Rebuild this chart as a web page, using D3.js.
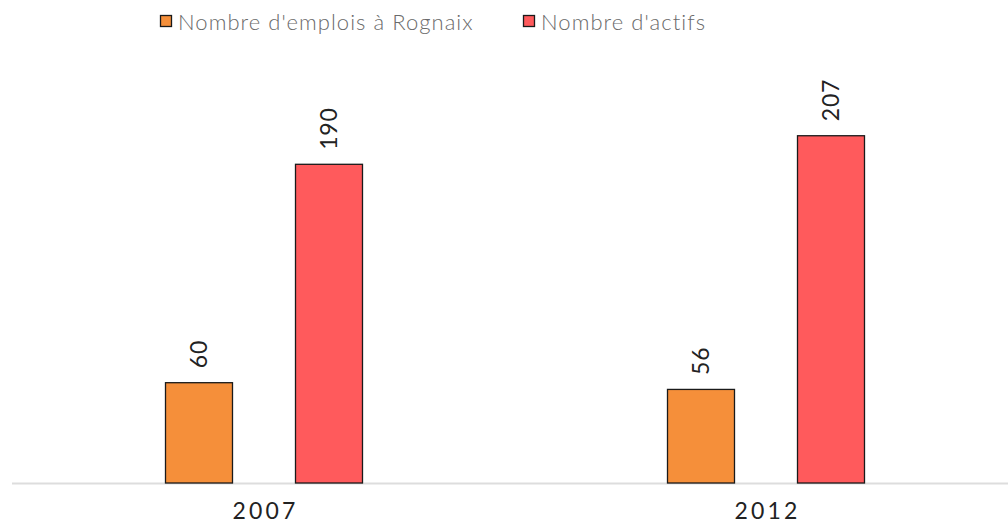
<!DOCTYPE html>
<html><head><meta charset="utf-8">
<script src="https://cdn.jsdelivr.net/npm/d3@7"></script>
<style>body{margin:0;background:#fff}svg{display:block}</style>
</head><body>
<svg id="c" width="1008" height="524"></svg>
<script>
const categories = ["2007", "2012"];
const seriesNames = ["Nombre d'emplois à Rognaix", "Nombre d'actifs"];
const emplois = [60, 56];
const actifs = [190, 207];
const colors = ["#f58f3a", "#ff5a5c"];

const svg = d3.select("#c");
const baseY = 483;
const x = d3.scaleBand().domain(categories).range([13, 1017]).padding(0);
const xi = d3.scaleBand().domain([0, 1]).range([121, 381]).paddingInner(0.477).paddingOuter(0.2385);
const y = d3.scaleLinear().domain([0, 250]).range([baseY, baseY - 420]);

const data = categories.map((c, i) => ({ cat: c, vals: [emplois[i], actifs[i]] }));

// axis line
svg.append("line").attr("x1", 12).attr("x2", 1008).attr("y1", baseY + 0.5).attr("y2", baseY + 0.5)
  .attr("stroke", "#dddddd").attr("stroke-width", 2);

const g = svg.selectAll("g.grp").data(data).enter().append("g").attr("class", "grp")
  .attr("transform", d => `translate(${x(d.cat)},0)`);

g.selectAll("rect").data(d => d.vals).enter().append("rect")
  .attr("x", (v, i) => xi(i) + 0.5)
  .attr("y", v => y(v) + 0.5)
  .attr("width", xi.bandwidth() - 1)
  .attr("height", v => baseY - y(v) - 0.5)
  .attr("fill", (v, i) => colors[i])
  .attr("stroke", "#1a1a1a").attr("stroke-width", 1.3);

g.selectAll("text.val").data(d => d.vals).enter().append("text").attr("class", "val")
  .attr("transform", (v, i) => `translate(${xi(i) + xi.bandwidth() / 2 + 8},${y(v) - 14}) rotate(-90)`)
  .attr("font-family", "Lato, sans-serif").attr("font-size", 23).attr("letter-spacing", 0.8)
  .attr("fill", "#222").text(v => v);

// x axis labels
svg.selectAll("text.cat").data(categories).enter().append("text").attr("class", "cat")
  .attr("x", d => x(d) + x.bandwidth() / 2 + 1.5).attr("y", 519)
  .attr("text-anchor", "middle").attr("font-family", "Lato, sans-serif").attr("font-size", 23)
  .attr("letter-spacing", 3.2).attr("fill", "#222").text(d => d);

// legend
const legX = [160, 523];
const leg = svg.selectAll("g.leg").data(seriesNames).enter().append("g").attr("class", "leg")
  .attr("transform", (d, i) => `translate(${legX[i]},0)`);
leg.append("rect").attr("x", 0.5).attr("y", 15.5).attr("width", 11).attr("height", 11)
  .attr("fill", (d, i) => colors[i]).attr("stroke", "#1a1a1a").attr("stroke-width", 1.3);
leg.append("text").attr("x", 18).attr("y", 29.5).attr("font-family", "Lato, sans-serif")
  .attr("font-weight", 300).attr("font-size", 22).attr("letter-spacing", 1.05)
  .attr("fill", "#6a6a6a").text(d => d);
</script>
</body></html>
